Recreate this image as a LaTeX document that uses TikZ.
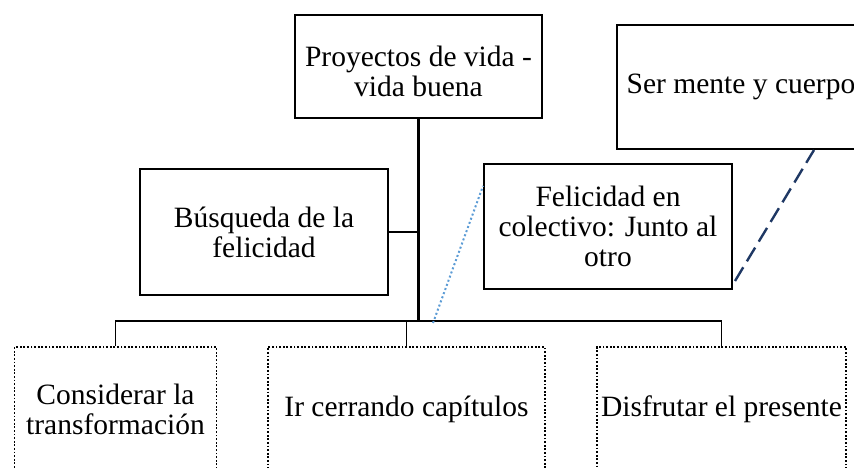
\documentclass[tikz,border=0pt]{standalone}
\usepackage{fontspec}
\setmainfont{Liberation Serif}
\definecolor{lblue}{HTML}{5B9BD5}
\definecolor{navy}{HTML}{1F3864}
\begin{document}
\begin{tikzpicture}[x=1pt,y=-1pt,
  txt/.style={inner sep=0pt, align=center, font=\fontsize{29.5}{30}\selectfont},
  box/.style={txt, draw=black, line width=2pt},
  dbox/.style={box, line width=1.8pt, dash pattern=on 1.8pt off 1.8pt},
  mainlink/.style={line width=2.4pt},
  link/.style={line width=1.8pt},
  bluedot/.style={lblue, line width=2pt, dash pattern=on 2pt off 2.4pt},
  navydash/.style={navy, line width=2.4pt, dash pattern=on 16pt off 7pt}]
\useasboundingbox (0,0) rectangle (854,468);
\node[box, minimum width=247pt, minimum height=103pt] (top) at (418.5,66.5) {};
\node[txt] (toptext) at ([yshift=-5pt]top.center) {Proyectos de vida -\\vida buena};
\node[box, minimum width=248pt, minimum height=124pt] (ser) at (741,87) {Ser mente y cuerpo};
\node[box, minimum width=248pt, minimum height=126pt] (busq) at (264,232) {Búsqueda de la\\felicidad};
\node[box, minimum width=248pt, minimum height=125pt] (feli) at (608,226.5) {Felicidad en\\colectivo: Junto al\\otro};
\node[dbox, minimum width=202pt, minimum height=125pt] (c1) at (115.5,409.5) {Considerar la\\transformación};
\node[dbox, minimum width=277pt, minimum height=125pt] (c2) at (406.5,409.5) {Ir cerrando capítulos};
\node[dbox, minimum width=249pt, minimum height=125pt] (c3) at (721.5,409.5) {Disfrutar el presente};
\coordinate (hl) at (115.5,321);
\coordinate (hr) at (721.5,321);
\coordinate (d1) at (433,323);
\draw[mainlink] (top.south) -- (top.south |- hl);
\draw[link] (busq.east) -- (busq.east -| top.south);
\draw[link] (c1.north) -- (hl) -- (hr) -- (c3.north);
\draw[link] (c2.north) -- (c2.north |- hl);
\draw[bluedot] (d1) -- ([yshift=40.5pt]feli.west);
\draw[navydash] ([xshift=2pt,yshift=9pt]feli.south east) -- ([xshift=198pt]ser.south west);
\end{tikzpicture}
\end{document}
